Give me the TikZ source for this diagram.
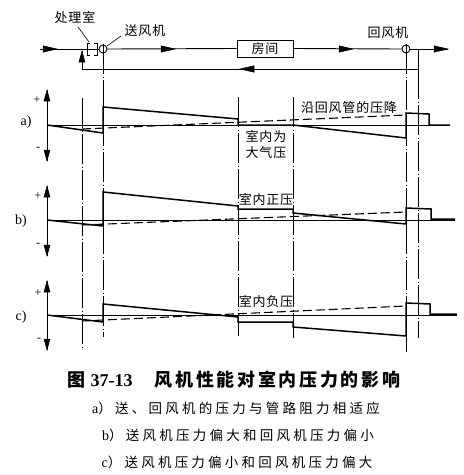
\documentclass[tikz,border=0pt]{standalone}
\usepackage{fontspec}
\setmainfont{Liberation Serif}
\newfontfamily\cjk[LetterSpace=6]{Noto Sans CJK SC}
\newfontfamily\cjkcap[LetterSpace=24]{Noto Sans CJK SC}
\newfontfamily\cjkt[LetterSpace=15]{Noto Sans CJK SC}
\tikzset{
  curve/.style={line width=1.5pt, line join=miter},
  dcurve/.style={line width=1.1pt, dash pattern=on 9pt off 4pt},
  cline/.style={line width=0.6pt, dash pattern=on 30pt off 2.5pt on 1pt off 2.5pt},
  baseln/.style={line width=0.8pt},
  flow/.style={line width=0.9pt},
  axisln/.style={line width=0.9pt},
  arrhead/.style={fill=black, draw=black, line width=0.5pt, line join=miter},
  lbl/.style={font=\fontsize{13}{15}\selectfont\cjk, inner sep=0pt},
  sign/.style={font=\fontsize{12}{12}\selectfont, inner sep=0pt},
  plotlbl/.style={font=\fontsize{14}{14}\selectfont, inner sep=0pt},
  captext/.style={font=\fontsize{13.5}{15}\selectfont\cjkcap, inner sep=0pt},
  fan/.style={circle, draw, line width=0.9pt, minimum size=8pt, inner sep=0pt}
}
\newcommand{\rarrow}[1]{\path[arrhead] (#1) -- ++(-14,-3.2) -- ++(0,6.4) -- cycle;}
\newcommand{\larrow}[1]{\path[arrhead] (#1) -- ++(14,-3.2) -- ++(0,6.4) -- cycle;}
\newcommand{\uarrow}[1]{\path[arrhead] (#1) -- ++(-3,11) -- ++(6,0) -- cycle;}
\newcommand{\darrow}[1]{\path[arrhead] (#1) -- ++(-3,-11) -- ++(6,0) -- cycle;}
\begin{document}
\begin{tikzpicture}[x=1pt,y=-1pt]
\useasboundingbox (0,0) rectangle (464,475);

% ---------- top flow diagram ----------
\coordinate (inl) at (40,49);
\coordinate (outr) at (448,49);
\coordinate (jr) at (418,49);
\coordinate (jrb) at (418,69);
\coordinate (jl) at (82,69);
\coordinate (jlt) at (82,51);
\coordinate (a1) at (57,49);
\coordinate (a2) at (175,49);
\coordinate (a3) at (353,49);
\coordinate (a4) at (240,69);
\node[fan] (sf) at (103,49) {};
\node[fan] (rf) at (406,49) {};
\node[draw, line width=0.9pt, minimum width=56pt, minimum height=17pt, inner sep=0pt, font=\fontsize{13}{15}\selectfont\cjk] (room) at (265,48.5) {房间};

\draw[flow] (inl) -- (sf.west);
\draw[flow] (sf.east) -- (room.west);
\draw[flow] (room.east) -- (rf.west);
\draw[flow] (rf.east) -- (outr);
\draw[flow] (jr) -- (jrb);
\draw[flow] (jrb) -- (jl);
\draw[flow] (jl) -- (jlt);
\rarrow{a1}
\rarrow{a2}
\rarrow{a3}
\rarrow{outr}
\larrow{a4}
\uarrow{jlt}

% processing chamber brackets
\draw[line width=0.8pt] (90,43) -- (87,43) -- (87,55) -- (90,55);
\draw[line width=0.8pt] (94,43) -- (97,43) -- (97,55) -- (94,55);

\node[lbl] (lproc) at (75,17) {处理室};
\node[lbl] (lsf) at (145,31) {送风机};
\node[lbl] (lrf) at (388,33) {回风机};
\draw[line width=0.6pt] (78,27) -- (89,42);
\draw[line width=0.6pt] (107,46) -- (121,36);

% ---------- vertical centre lines ----------
\draw[cline] (82,98) -- (82,347);
\draw[cline] (103,44) -- (103,337);
\draw[cline] (238,97) -- (238,336);
\draw[cline] (293,97) -- (293,338);
\draw[cline] (406,44) -- (406,352);
\draw[cline] (418,69) -- (418,338);

% ---------- plot a ----------
\coordinate (at) at (47,90); \coordinate (ab) at (47,161);
\draw[axisln] (at) -- (ab);
\uarrow{at} \darrow{ab}
\node[sign] (pa) at (37,100) {+};
\node[sign] (ma) at (38,149) {-};
\node[plotlbl] (la) at (26,122) {a)};
\draw[baseln] (47,125) -- (450,125);
\draw[curve] (47,125) -- (103,133) -- (103,107) -- (238,119) -- (238,125) -- (293,125) -- (406,138) -- (406,113) -- (429,114) -- (429,125) -- (450,125);
\draw[dcurve] (82,129) -- (406,115);
\node[lbl] (ta1) at (349,108) {沿回风管的压降};
\node[lbl] (ta2) at (266,137) {室内为};
\node[lbl] (ta3) at (266,153) {大气压};

% ---------- plot b ----------
\coordinate (bt) at (47,186); \coordinate (bb) at (47,256);
\draw[axisln] (bt) -- (bb);
\uarrow{bt} \darrow{bb}
\node[sign] (pb) at (38,196) {+};
\node[sign] (mb) at (38,245) {-};
\node[plotlbl] (lb) at (21,221) {b)};
\draw[baseln] (47,220) -- (455,220);
\draw[curve] (47,220) -- (103,226) -- (103,192) -- (238,206) -- (238,209) -- (293,209) -- (293,213) -- (406,224) -- (406,208) -- (431,209) -- (431,219) -- (455,219);
\draw[dcurve] (82,225) -- (406,212);
\node[lbl] (tb) at (266,200) {室内正压};

% ---------- plot c ----------
\coordinate (ct) at (47,281); \coordinate (cb) at (47,350);
\draw[axisln] (ct) -- (cb);
\uarrow{ct} \darrow{cb}
\node[sign] (pc) at (38,293) {+};
\node[sign] (mc) at (39,340) {-};
\node[plotlbl] (lc) at (21,317) {c)};
\draw[baseln] (47,315) -- (457,315);
\draw[curve] (47,315) -- (103,322) -- (103,304) -- (238,317) -- (238,322) -- (293,322) -- (293,327) -- (406,336) -- (406,303) -- (430,304) -- (430,314) -- (457,314);
\draw[dcurve] (82,321) -- (406,306);
\node[lbl] (tc) at (266,302) {室内负压};

% ---------- caption ----------
\node[inner sep=0pt] (title) at (234,380) {{\fontsize{18}{20}\selectfont\cjkt\bfseries 图}\hspace{5pt}{\fontsize{18}{20}\selectfont\bfseries 37-13}\hspace{22pt}{\fontsize{18}{20}\selectfont\cjkt\bfseries 风机性能对室内压力的影响}};
\node[captext] (capa) at (236,408) {{\fontsize{14}{15}\selectfont\rmfamily a}）送、回风机的压力与管路阻力相适应};
\node[captext] (capb) at (238,435) {{\fontsize{14}{15}\selectfont\rmfamily b}）送风机压力偏大和回风机压力偏小};
\node[captext] (capc) at (237,462) {{\fontsize{14}{15}\selectfont\rmfamily c}）送风机压力偏小和回风机压力偏大};
\end{tikzpicture}
\end{document}
